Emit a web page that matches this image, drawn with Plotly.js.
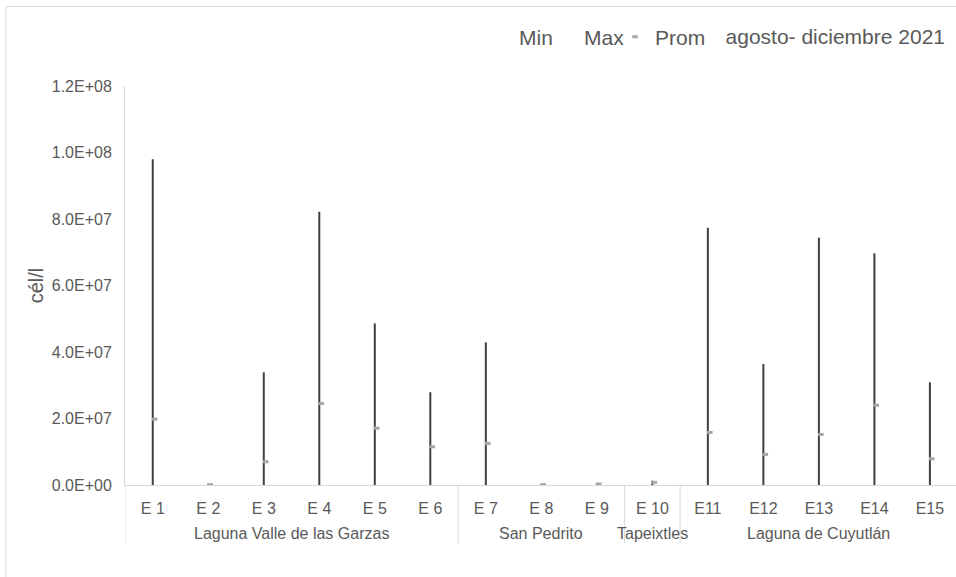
<!DOCTYPE html>
<html>
<head>
<meta charset="utf-8">
<script src="https://cdn.plot.ly/plotly-3.0.1.min.js"></script>
<style>html,body{margin:0;padding:0;background:#fff;}#chart{width:956px;height:577px;}</style>
</head>
<body>
<div id="chart"></div>
<script>
// ---- data ----
const groups = ['Laguna Valle de las Garzas','Laguna Valle de las Garzas','Laguna Valle de las Garzas','Laguna Valle de las Garzas','Laguna Valle de las Garzas','Laguna Valle de las Garzas','San Pedrito','San Pedrito','San Pedrito','Tapeixtles','Laguna de Cuyutlán','Laguna de Cuyutlán','Laguna de Cuyutlán','Laguna de Cuyutlán','Laguna de Cuyutlán'];
const stations = ['E 1','E 2','E 3','E 4','E 5','E 6','E 7','E 8','E 9','E 10','E11','E12','E13','E14','E15'];
const minVals = [0,0,0,0,0,0,0,0,0,0,0,0,0,0,0];
const maxVals = [9.80e7,3e5,3.39e7,8.22e7,4.86e7,2.79e7,4.29e7,3e5,6e5,1.3e6,7.74e7,3.64e7,7.44e7,6.97e7,3.09e7];
const promVals = [1.98e7,1e5,0.70e7,2.45e7,1.71e7,1.15e7,1.25e7,1e5,3e5,8e5,1.58e7,0.92e7,1.52e7,2.40e7,0.79e7];
const yTickVals = [0,2e7,4e7,6e7,8e7,1e8,1.2e8];
const yTickText = ['0.0E+00','2.0E+07','4.0E+07','6.0E+07','8.0E+07','1.0E+08','1.2E+08'];
const seriesTitle = 'agosto- diciembre 2021';

const FONT = 'Liberation Sans, Arial, sans-serif';
const TXT = '#595959';
const GRID = '#d9d9d9';
const xRange = [-0.5, 14.47];
const promOffset = 0.035;

const idx = stations.map((s, i) => i);

// group runs (from the groups array)
const runs = [];
groups.forEach((g, i) => {
  if (!runs.length || runs[runs.length - 1].name !== g) runs.push({name: g, start: i, end: i});
  else runs[runs.length - 1].end = i;
});
const boundaries = [runs[0].start - 0.5].concat(runs.map(r => r.end + 0.5));

const traces = [
  {
    name: 'Min', type: 'scatter', mode: 'markers', legend: 'legend',
    x: stations, y: minVals,
    marker: {color: 'rgba(0,0,0,0)', size: 1},
    hoverinfo: 'skip'
  },
  {
    name: 'Max', type: 'scatter', mode: 'markers', legend: 'legend2',
    x: stations, y: maxVals,
    marker: {color: 'rgba(0,0,0,0)', size: 1},
    error_y: {
      type: 'data', symmetric: false,
      array: maxVals.map(() => 0),
      arrayminus: maxVals.map((v, i) => v - minVals[i]),
      color: '#404040', thickness: 2, width: 0
    },
    hoverinfo: 'skip'
  },
  {
    name: 'Prom', type: 'scatter', mode: 'markers', legend: 'legend3',
    x: idx.map(i => i + promOffset), y: promVals, xaxis: 'x2',
    marker: {symbol: 'line-ew', size: 4, color: '#a6a6a6', line: {color: '#a6a6a6', width: 3}},
    hoverinfo: 'skip'
  }
];

const legendBase = {
  orientation: 'h', xanchor: 'left', y: 1.1228, yanchor: 'middle',
  font: {family: FONT, size: 21, color: TXT},
  bgcolor: 'rgba(0,0,0,0)'
};

const plotTop = 86, plotBottom = 485, plotH = plotBottom - plotTop;

const groupAnnotations = runs.map(r => ({
  text: r.name, xref: 'x', x: (r.start + r.end) / 2,
  yref: 'paper', y: (plotBottom - 533) / plotH, yanchor: 'middle',
  showarrow: false, font: {family: FONT, size: 16, color: TXT}
}));

const dividerShapes = boundaries.map(b => ({
  type: 'line', xref: 'x', x0: b, x1: b,
  yref: 'paper', y0: 0, y1: (plotBottom - 543) / plotH,
  line: {color: GRID, width: 1}
}));

const layout = {
  width: 956, height: 577,
  margin: {l: 125, r: 0, t: plotTop, b: 577 - plotBottom},
  paper_bgcolor: '#ffffff', plot_bgcolor: '#ffffff',
  font: {family: FONT, color: TXT},
  showlegend: true,
  title: {
    text: seriesTitle,
    font: {family: FONT, size: 21, color: TXT},
    xref: 'container', x: 945/956, xanchor: 'right',
    yref: 'container', y: 1 - 37/577, yanchor: 'middle'
  },
  legend: Object.assign({}, legendBase, {x: (519 - 40 - 125) / 831}),
  legend2: Object.assign({}, legendBase, {x: (584 - 40 - 125) / 831}),
  legend3: Object.assign({}, legendBase, {x: (655 - 40 - 125) / 831}),
  xaxis: {
    type: 'category', range: xRange,
    showline: true, linecolor: GRID, linewidth: 1,
    showgrid: false, zeroline: false, ticks: '',
    ticklabelstandoff: 9,
    tickfont: {family: FONT, size: 16, color: TXT}
  },
  xaxis2: {
    overlaying: 'x', type: 'linear', range: xRange, visible: false
  },
  yaxis: {
    range: [0, 1.2e8], tickmode: 'array', tickvals: yTickVals, ticktext: yTickText,
    showline: true, linecolor: GRID, linewidth: 1,
    showgrid: false, zeroline: false, ticks: '',
    ticklabelstandoff: 9,
    tickfont: {family: FONT, size: 16, color: TXT},
    title: {text: 'cél/l', font: {family: FONT, size: 20, color: TXT}, standoff: 2}
  },
  annotations: groupAnnotations,
  shapes: [{
    type: 'rect', xref: 'paper', yref: 'paper',
    x0: (6 - 125) / 831, x1: 1.2, y0: -1, y1: (plotBottom - 6.5) / plotH,
    line: {color: GRID, width: 1}, fillcolor: 'rgba(0,0,0,0)', layer: 'below'
  }].concat(dividerShapes)
};

Plotly.newPlot('chart', traces, layout, {displayModeBar: false, staticPlot: true});
</script>
</body>
</html>
